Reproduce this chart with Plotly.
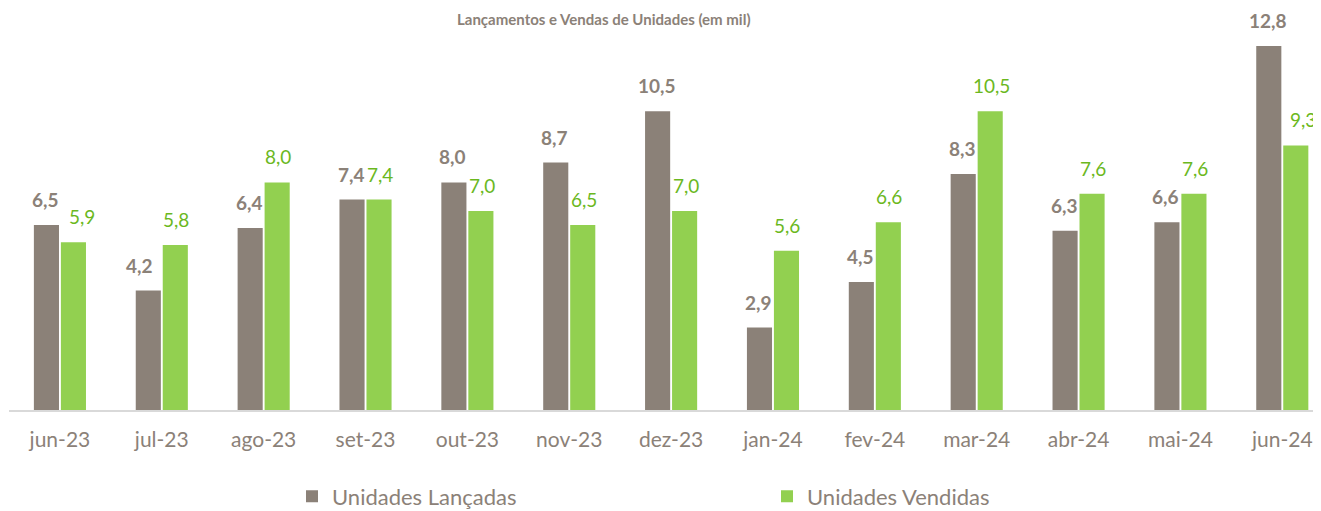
import plotly.graph_objects as go

categories = ["jun-23", "jul-23", "ago-23", "set-23", "out-23", "nov-23", "dez-23",
              "jan-24", "fev-24", "mar-24", "abr-24", "mai-24", "jun-24"]
lancadas = [6.5, 4.2, 6.4, 7.4, 8.0, 8.7, 10.5, 2.9, 4.5, 8.3, 6.3, 6.6, 12.8]
vendidas = [5.9, 5.8, 8.0, 7.4, 7.0, 6.5, 7.0, 5.6, 6.6, 10.5, 7.6, 7.6, 9.3]

# label horizontal nudges (px), style only
lanc_shift = [0, -8, 0, 0, 0, 0, 0, 0, 0, 0, 0, 0, 0]
vend_shift = [8, 0, 0, 0, 0, 0, 0, 0, 0, 0, 0, 0, 6]

GRAY = "#8B8178"
GREEN = "#92D050"
GREEN_TXT = "#6BB81E"
TXT = "#8B8178"
FONT = "Lato"

fig = go.Figure()
fig.add_trace(go.Bar(name="Unidades Lançadas", x=categories, y=lancadas,
                     marker=dict(color=GRAY, line=dict(width=0))))
fig.add_trace(go.Bar(name="Unidades Vendidas", x=categories, y=vendidas,
                     marker=dict(color=GREEN, line=dict(width=0))))

def fmt(v):
    return f"{v:.1f}".replace(".", ",")

for i, c in enumerate(categories):
    fig.add_annotation(x=c, y=lancadas[i], text=f"<b>{fmt(lancadas[i])}</b>",
                       showarrow=False, xref="x", yref="y", xanchor="center",
                       yanchor="bottom", xshift=-14.5 + lanc_shift[i], yshift=12,
                       font=dict(family=FONT, size=19, color=TXT))
    fig.add_annotation(x=c, y=vendidas[i], text=fmt(vendidas[i]),
                       showarrow=False, xref="x", yref="y", xanchor="center",
                       yanchor="bottom", xshift=14.5 + vend_shift[i], yshift=12,
                       font=dict(family=FONT, size=19, color=GREEN_TXT))

fig.add_annotation(text="<b>Lançamentos e Vendas de Unidades (em mil)</b>",
                   xref="paper", yref="paper", x=(752 - 8) / 1312, xanchor="right",
                   y=1 + 12 / 390, yanchor="top", yshift=0, showarrow=False,
                   font=dict(family=FONT, size=15, color=TXT))

fig.update_layout(
    width=1313, height=503,
    margin=dict(l=1, r=0, t=12, b=101, autoexpand=False),
    paper_bgcolor="white", plot_bgcolor="white",
    barmode="group", bargap=0.47, bargroupgap=0.07,
    font=dict(family=FONT, color=TXT),
    showlegend=True,
    legend=dict(orientation="h", x=(291 - 8) / 1312, xanchor="left", y=-0.168,
                yanchor="top",
                font=dict(family=FONT, size=22, color=TXT),
                itemwidth=30, traceorder="normal", entrywidth=430),
    xaxis=dict(range=[-0.5, 12.38], showgrid=False, showline=True,
               linecolor="#D9D9D9", linewidth=2, ticks="", ticklabelstandoff=10,
               tickfont=dict(family=FONT, size=21, color=TXT)),
    yaxis=dict(range=[0, 13.71], visible=False, showgrid=False),
)

fig.write_html("out.html")
